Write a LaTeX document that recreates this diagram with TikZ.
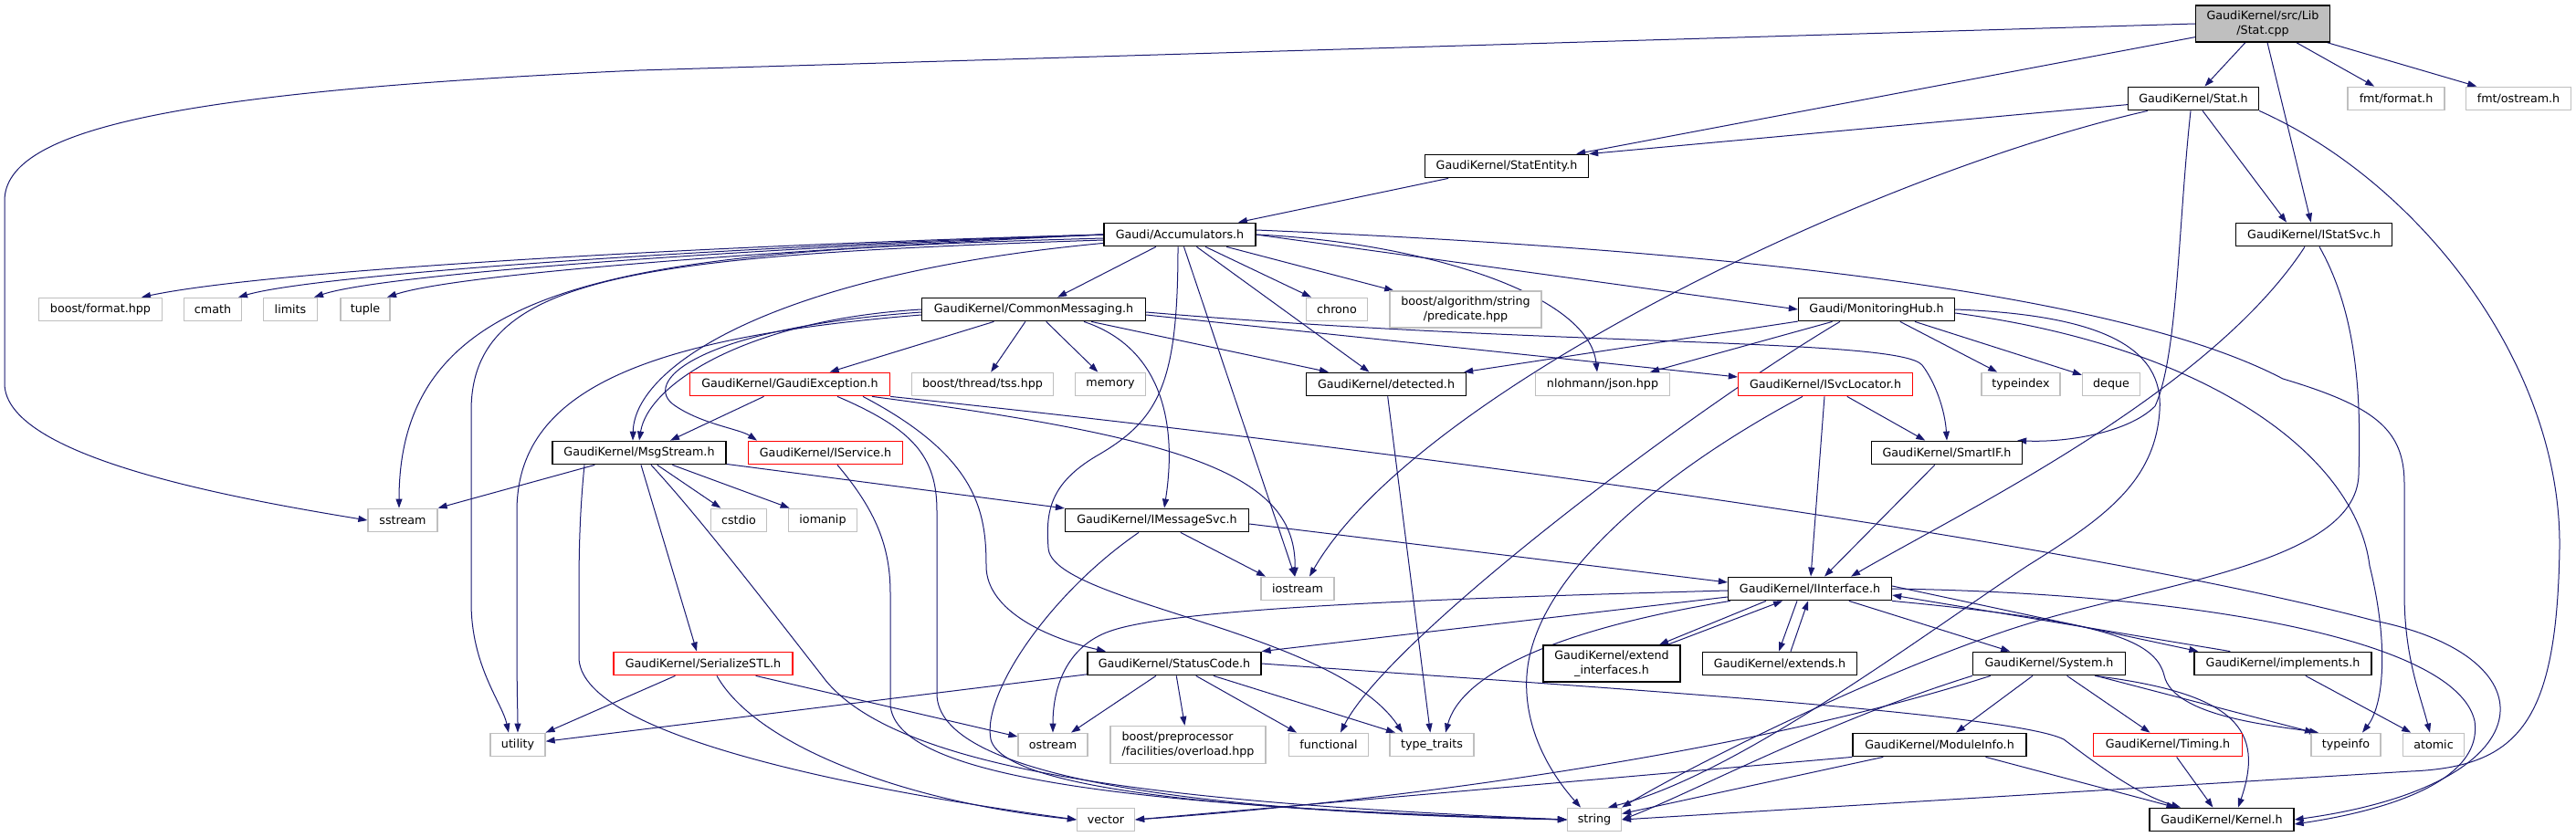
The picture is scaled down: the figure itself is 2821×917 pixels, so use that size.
\documentclass[tikz,border=0pt]{standalone}
\usepackage{fontspec}
\setmainfont{DejaVu Sans}
\usetikzlibrary{arrows.meta,backgrounds}
\definecolor{edgeblue}{HTML}{191970}
\definecolor{extgray}{HTML}{BFBFBF}
\definecolor{rootgray}{HTML}{BFBFBF}
\newcommand\nfont{\fontsize{12.7}{15.5}\selectfont}
\begin{document}
\begin{tikzpicture}[x=1pt,y=-1pt,
  nb/.style={rectangle, line width=1.3pt, font=\nfont, inner xsep=4pt, inner ysep=1pt, minimum height=25.5pt, fill=white, text=black},
  doc/.style={nb, draw=black},
  ext/.style={nb, draw=extgray},
  trunc/.style={nb, draw=red},
  root/.style={nb, draw=black, fill=rootgray},
  edg/.style={draw=edgeblue, line width=1pt, -{Triangle[length=10pt,width=7pt]}}]
\useasboundingbox (0,0) rectangle (2821,917);

% ---------- nodes ----------
\node[root, minimum width=147pt, minimum height=40pt, align=center] (cpp) at (2478,26) {GaudiKernel/src/Lib\\/Stat.cpp};
\node[doc, minimum width=143pt] (stath) at (2402,108) {GaudiKernel/Stat.h};
\node[ext, minimum width=106pt] (fmtf) at (2624,108) {fmt/format.h};
\node[ext, minimum width=115pt] (fmto) at (2758,108) {fmt/ostream.h};
\node[doc, minimum width=171pt] (istat) at (2534,257) {GaudiKernel/IStatSvc.h};
\node[doc, minimum width=179pt] (entity) at (1650,182) {GaudiKernel/StatEntity.h};
\node[doc, minimum width=166pt] (acc) at (1292,257) {Gaudi/Accumulators.h};
\node[ext, minimum width=135pt] (bfmt) at (110,339) {boost/format.hpp};
\node[ext, minimum width=63pt] (cmath) at (233,339) {cmath};
\node[ext, minimum width=59pt] (limits) at (318,339) {limits};
\node[ext, minimum width=54pt] (tuple) at (400,339) {tuple};
\node[ext, minimum width=76pt] (sstream) at (441,570) {sstream};
\node[doc, minimum width=190pt] (msg) at (700,496) {GaudiKernel/MsgStream.h};
\node[doc, minimum width=245pt] (cm) at (1132,339) {GaudiKernel/CommonMessaging.h};
\node[trunc, minimum width=219pt] (gexc) at (865,421) {GaudiKernel/GaudiException.h};
\node[ext, minimum width=155pt] (tss) at (1076,421) {boost/thread/tss.hpp};
\node[ext, minimum width=77pt] (memory) at (1216,421) {memory};
\node[trunc, minimum width=169pt] (isvc) at (904,496) {GaudiKernel/IService.h};
\node[ext, minimum width=61pt] (cstdio) at (809,570) {cstdio};
\node[ext, minimum width=75pt] (iomanip) at (901,570) {iomanip};
\node[doc, minimum width=201pt] (imsg) at (1267,570) {GaudiKernel/IMessageSvc.h};
\node[ext, minimum width=67pt] (chrono) at (1464,339) {chrono};
\node[ext, minimum width=166pt, minimum height=40pt, align=center] (pred) at (1605,339) {boost/algorithm/string\\/predicate.hpp};
\node[doc, minimum width=171pt] (mhub) at (2055,339) {Gaudi/MonitoringHub.h};
\node[doc, minimum width=175pt] (detected) at (1518,421) {GaudiKernel/detected.h};
\node[ext, minimum width=147pt] (json) at (1755,421) {nlohmann/json.hpp};
\node[trunc, minimum width=191pt] (isl) at (1999,421) {GaudiKernel/ISvcLocator.h};
\node[doc, minimum width=165pt] (smartif) at (2132,496) {GaudiKernel/SmartIF.h};
\node[ext, minimum width=86pt] (typeindex) at (2213,421) {typeindex};
\node[ext, minimum width=63pt] (deque) at (2312,421) {deque};
\node[ext, minimum width=80pt] (iostream) at (1421,645) {iostream};
\node[doc, minimum width=179pt] (iint) at (1982,645) {GaudiKernel/IInterface.h};
\node[doc, minimum width=150pt, minimum height=40pt, align=center] (extint) at (1765,727) {GaudiKernel/extend\\\_interfaces.h};
\node[doc, minimum width=169pt] (extends) at (1949,727) {GaudiKernel/extends.h};
\node[doc, minimum width=190pt] (sc) at (1286,727) {GaudiKernel/StatusCode.h};
\node[trunc, minimum width=196pt] (sstl) at (770,727) {GaudiKernel/SerializeSTL.h};
\node[ext, minimum width=60pt] (utility) at (567,816) {utility};
\node[ext, minimum width=76pt] (ostream) at (1153,816) {ostream};
\node[ext, minimum width=170pt, minimum height=41pt, align=left] (overload) at (1301,816) {boost/preprocessor\\/facilities/overload.hpp};
\node[ext, minimum width=87pt] (functional) at (1455,816) {functional};
\node[ext, minimum width=92pt] (typetraits) at (1568,816) {type\_traits};
\node[ext, minimum width=63pt] (vector) at (1211,898) {vector};
\node[ext, minimum width=59pt] (string) at (1746,898) {string};
\node[doc, minimum width=167pt] (system) at (2244,727) {GaudiKernel/System.h};
\node[doc, minimum width=194pt] (impl) at (2500,727) {GaudiKernel/implements.h};
\node[doc, minimum width=190pt] (modinfo) at (2124,816) {GaudiKernel/ModuleInfo.h};
\node[trunc, minimum width=163pt] (timing) at (2374,816) {GaudiKernel/Timing.h};
\node[ext, minimum width=76pt] (typeinfo) at (2569,816) {typeinfo};
\node[ext, minimum width=67pt] (atomic) at (2665,816) {atomic};
\node[doc, minimum width=158pt] (kernel) at (2433,898) {GaudiKernel/Kernel.h};

% ---------- edges ----------
\begin{scope}[on background layer]
% Stat.cpp
\draw[edg] (cpp.west) -- (700,77) .. controls (200,100) and (5,140) .. (5,220) -- (5,420) .. controls (5,500) and (250,545) .. (sstream.west);
\draw[edg] ([yshift=6pt]cpp.south west) -- ([xshift=-14pt]entity.north east);
\draw[edg] (cpp) -- (stath);
\draw[edg] (cpp) -- (istat);
\draw[edg] (cpp) -- (fmtf);
\draw[edg] (cpp) -- (fmto);
% Stat.h
\draw[edg] (stath) -- (entity.north east);
\draw[edg] (stath) -- ([xshift=-30pt]istat.north);
\draw[edg] ([xshift=-50pt]stath.south) .. controls (2050,190) and (1550,430) .. ([xshift=13pt]iostream.north);
\draw[edg] ([xshift=-3pt]stath.south) .. controls (2385,250) and (2385,390) .. (2360,445) .. controls (2330,475) and (2260,485) .. ([xshift=-6pt]smartif.north east);
\draw[edg] (stath.south east) .. controls (2650,200) and (2805,400) .. (2803,600) .. controls (2800,790) and (2760,840) .. (2640,845) -- (string.east);
% StatEntity
\draw[edg] (entity) -- (acc);
% IStatSvc
\draw[edg] ([xshift=-10pt]istat.south) .. controls (2420,430) and (2150,560) .. ([xshift=45pt]iint.north);
\draw[edg] ([xshift=6pt]istat.south) .. controls (2585,350) and (2585,450) .. (2583,520) .. controls (2580,620) and (2350,640) .. (2200,690) .. controls (2050,740) and (1850,840) .. (string.north east);
% Accumulators
\draw[edg] (acc.west) .. controls (800,268) and (300,295) .. ([xshift=45pt]bfmt.north);
\draw[edg] (acc.west) .. controls (800,270) and (350,300) .. ([xshift=28pt]cmath.north);
\draw[edg] (acc.west) .. controls (820,272) and (420,300) .. ([xshift=26pt]limits.north);
\draw[edg] (acc.west) .. controls (850,274) and (500,300) .. ([xshift=24pt]tuple.north);
\draw[edg] ([yshift=-4pt]acc.west) .. controls (700,275) and (437,300) .. ([xshift=-4pt]sstream.north);
\draw[edg] ([yshift=-6pt]acc.west) .. controls (700,280) and (516,300) .. (516,450) -- (516,660) .. controls (516,730) and (550,770) .. ([xshift=-10pt]utility.north);
\draw[edg] ([yshift=4pt]acc.south west) .. controls (850,300) and (695,400) .. ([xshift=-7pt]msg.north);
\draw[edg] (acc) -- (cm);
\draw[edg] (acc) -- (chrono);
\draw[edg] (acc) -- (pred);
\draw[edg] (acc) -- (detected);
\draw[edg] (acc.east) .. controls (1550,265) and (1740,320) .. ([xshift=-6pt]json.north);
\draw[edg] (acc.east) -- (mhub.west);
\draw[edg] ([yshift=5pt]acc.east) .. controls (1800,270) and (2300,310) .. (2500,415) .. controls (2600,445) and (2633,470) .. (2633,530) -- (2633,650) .. controls (2633,720) and (2650,760) .. ([xshift=-4pt]atomic.north);
\draw[edg] (acc) -- ([xshift=-3pt]iostream.north);
\draw[edg] ([xshift=-2pt]acc.south) .. controls (1290,420) and (1270,460) .. (1200,500) .. controls (1150,530) and (1145,560) .. (1148,600) .. controls (1150,660) and (1460,690) .. ([xshift=-32pt]typetraits.north);
% CommonMessaging
\draw[edg] (cm) -- (gexc);
\draw[edg] (cm) -- (tss);
\draw[edg] (cm) -- (memory);
\draw[edg] (cm.west) .. controls (820,350) and (710,420) .. (msg.north);
\draw[edg] ([yshift=-3pt]cm.west) .. controls (760,360) and (700,420) .. (740,445) .. controls (770,465) and (810,470) .. ([xshift=-75pt]isvc.north);
\draw[edg] ([yshift=-6pt]cm.west) .. controls (700,370) and (566,430) .. (566,560) -- (566,700) .. controls (566,760) and (567,780) .. (utility.north);
\draw[edg] (cm) -- (detected);
\draw[edg] ([yshift=-6pt]cm.east) -- ([yshift=8pt]isl.west);
\draw[edg] ([yshift=-3pt]cm.east) .. controls (1700,380) and (2080,370) .. (2105,400) .. controls (2120,420) and (2130,450) .. (smartif.north);
\draw[edg] ([xshift=55pt]cm.south) .. controls (1270,380) and (1290,460) .. ([xshift=8pt]imsg.north);
% MonitoringHub
\draw[edg] (mhub) -- ([xshift=-3pt]detected.north east);
\draw[edg] (mhub) -- ([xshift=52pt]json.north);
\draw[edg] (mhub) -- (typeindex);
\draw[edg] (mhub) -- (deque);
\draw[edg] ([xshift=-40pt]mhub.south) .. controls (1850,450) and (1520,700) .. ([xshift=13pt]functional.north);
\draw[edg] (mhub.east) .. controls (2300,345) and (2370,380) .. (2365,450) .. controls (2360,530) and (2300,570) .. (2220,620) .. controls (2100,700) and (1900,850) .. ([xshift=15pt]string.north);
\draw[edg] ([yshift=-4pt]mhub.east) .. controls (2420,380) and (2580,500) .. (2595,620) .. controls (2615,700) and (2612,770) .. ([xshift=18pt]typeinfo.north);
% ISvcLocator, SmartIF
\draw[edg] (isl) -- (iint);
\draw[edg] (isl) -- (smartif);
\draw[edg] ([xshift=-25pt]isl.south) .. controls (1850,500) and (1680,620) .. (1672,740) .. controls (1668,800) and (1700,850) .. ([xshift=-15pt]string.north);
\draw[edg] (smartif) -- ([xshift=16pt]iint.north);
% GaudiException
\draw[edg] (gexc) -- ([xshift=34pt]msg.north);
\draw[edg] ([xshift=80pt]gexc.south) .. controls (1070,500) and (1080,560) .. (1080,620) .. controls (1080,670) and (1150,700) .. ([xshift=-75pt]sc.north);
\draw[edg] ([xshift=52pt]gexc.south) .. controls (1000,470) and (1026,500) .. (1026,560) -- (1026,760) .. controls (1026,850) and (1300,890) .. (string.west);
\draw[edg] ([xshift=90pt]gexc.south) .. controls (1300,480) and (1420,520) .. ([xshift=-3pt]iostream.north);
\draw[edg] (gexc.south east) .. controls (1600,500) and (2300,600) .. (2600,680) .. controls (2800,720) and (2790,860) .. (kernel.east);
% IService
\draw[edg] ([xshift=13pt]isvc.south) .. controls (960,560) and (975,600) .. (975,650) -- (975,770) .. controls (975,860) and (1300,885) .. (string.west);
% MsgStream
\draw[edg] (msg) -- (sstream.north east);
\draw[edg] (msg) -- (cstdio);
\draw[edg] (msg) -- (iomanip);
\draw[edg] (msg) -- (imsg);
\draw[edg] ([xshift=2pt]msg.south) -- ([xshift=-7pt]sstl.north);
\draw[edg] ([xshift=13pt]msg.south) .. controls (760,560) and (830,650) .. (900,740) .. controls (980,850) and (1300,880) .. (string.west);
\draw[edg] ([xshift=-60pt]msg.south) .. controls (635,560) and (634,600) .. (634,650) -- (634,720) .. controls (634,800) and (900,860) .. (vector.west);
% IMessageSvc
\draw[edg] (imsg) -- ([xshift=-35pt]iostream.north);
\draw[edg] ([yshift=-4pt]imsg.east) -- ([yshift=7pt]iint.west);
\draw[edg] ([xshift=-20pt]imsg.south) .. controls (1150,650) and (1075,760) .. (1085,810) .. controls (1100,870) and (1400,890) .. (string.west);
% detected
\draw[edg] (detected) -- (typetraits);
% IInterface
\draw[edg] ([yshift=-9pt]iint.west) -- (sc.north east);
\draw[edg] ([yshift=-2pt]iint.west) .. controls (1600,655) and (1300,665) .. (1220,690) .. controls (1170,705) and (1153,750) .. (ostream.north);
\draw[edg] ([xshift=3pt]iint.south west) .. controls (1700,690) and (1600,740) .. ([xshift=15pt]typetraits.north);
\draw[edg] ([xshift=-48pt]iint.south) -- ([xshift=52pt]extint.north);
\draw[edg] ([xshift=61pt]extint.north) -- ([xshift=-30pt]iint.south);
\draw[edg] ([xshift=-14pt]iint.south) -- ([xshift=-1pt]extends.north);
\draw[edg] ([xshift=12pt]extends.north) -- ([xshift=-2pt]iint.south);
\draw[edg] (iint) -- (system);
\draw[edg] ([yshift=3pt]iint.east) -- ([xshift=5pt]impl.north west);
\draw[edg] ([xshift=40pt]impl.north west) -- ([yshift=-7pt]iint.east);
\draw[edg] (iint.south east) .. controls (2300,680) and (2360,700) .. (2370,740) .. controls (2380,785) and (2490,795) .. ([xshift=-30pt]typeinfo.north);
\draw[edg] (iint.east) .. controls (2400,650) and (2690,700) .. (2710,790) .. controls (2720,860) and (2600,890) .. ([yshift=-5pt]kernel.east);
% implements
\draw[edg] (impl) -- (atomic);
% StatusCode
\draw[edg] (sc) -- (ostream);
\draw[edg] (sc) -- (overload);
\draw[edg] (sc) -- ([xshift=-35pt]functional.north);
\draw[edg] (sc) -- ([xshift=-40pt]typetraits.north);
\draw[edg] (sc) -- (utility);
\draw[edg] (sc.east) .. controls (1700,750) and (2200,780) .. (2260,810) .. controls (2300,840) and (2340,870) .. ([xshift=-45pt]kernel.north);
% SerializeSTL
\draw[edg] (sstl) -- (utility);
\draw[edg] (sstl) -- (ostream);
\draw[edg] ([xshift=15pt]sstl.south) .. controls (830,820) and (1000,880) .. (vector.west);
% System
\draw[edg] (system) -- (modinfo);
\draw[edg] (system) -- (timing);
\draw[edg] ([xshift=50pt]system.south) .. controls (2450,760) and (2480,800) .. ([xshift=18pt]kernel.north);
\draw[edg] (system) -- ([xshift=-35pt]typeinfo.north);
\draw[edg] (system.south west) .. controls (2000,790) and (1850,870) .. (string.east);
\draw[edg] ([xshift=20pt]system.south west) .. controls (1900,830) and (1500,880) .. (vector.east);
% ModuleInfo, Timing
\draw[edg] (modinfo) -- (kernel);
\draw[edg] (modinfo) -- (string);
\draw[edg] (modinfo.south west) -- (vector.east);
\draw[edg] (timing) -- (kernel);
\end{scope}
\end{tikzpicture}
\end{document}
